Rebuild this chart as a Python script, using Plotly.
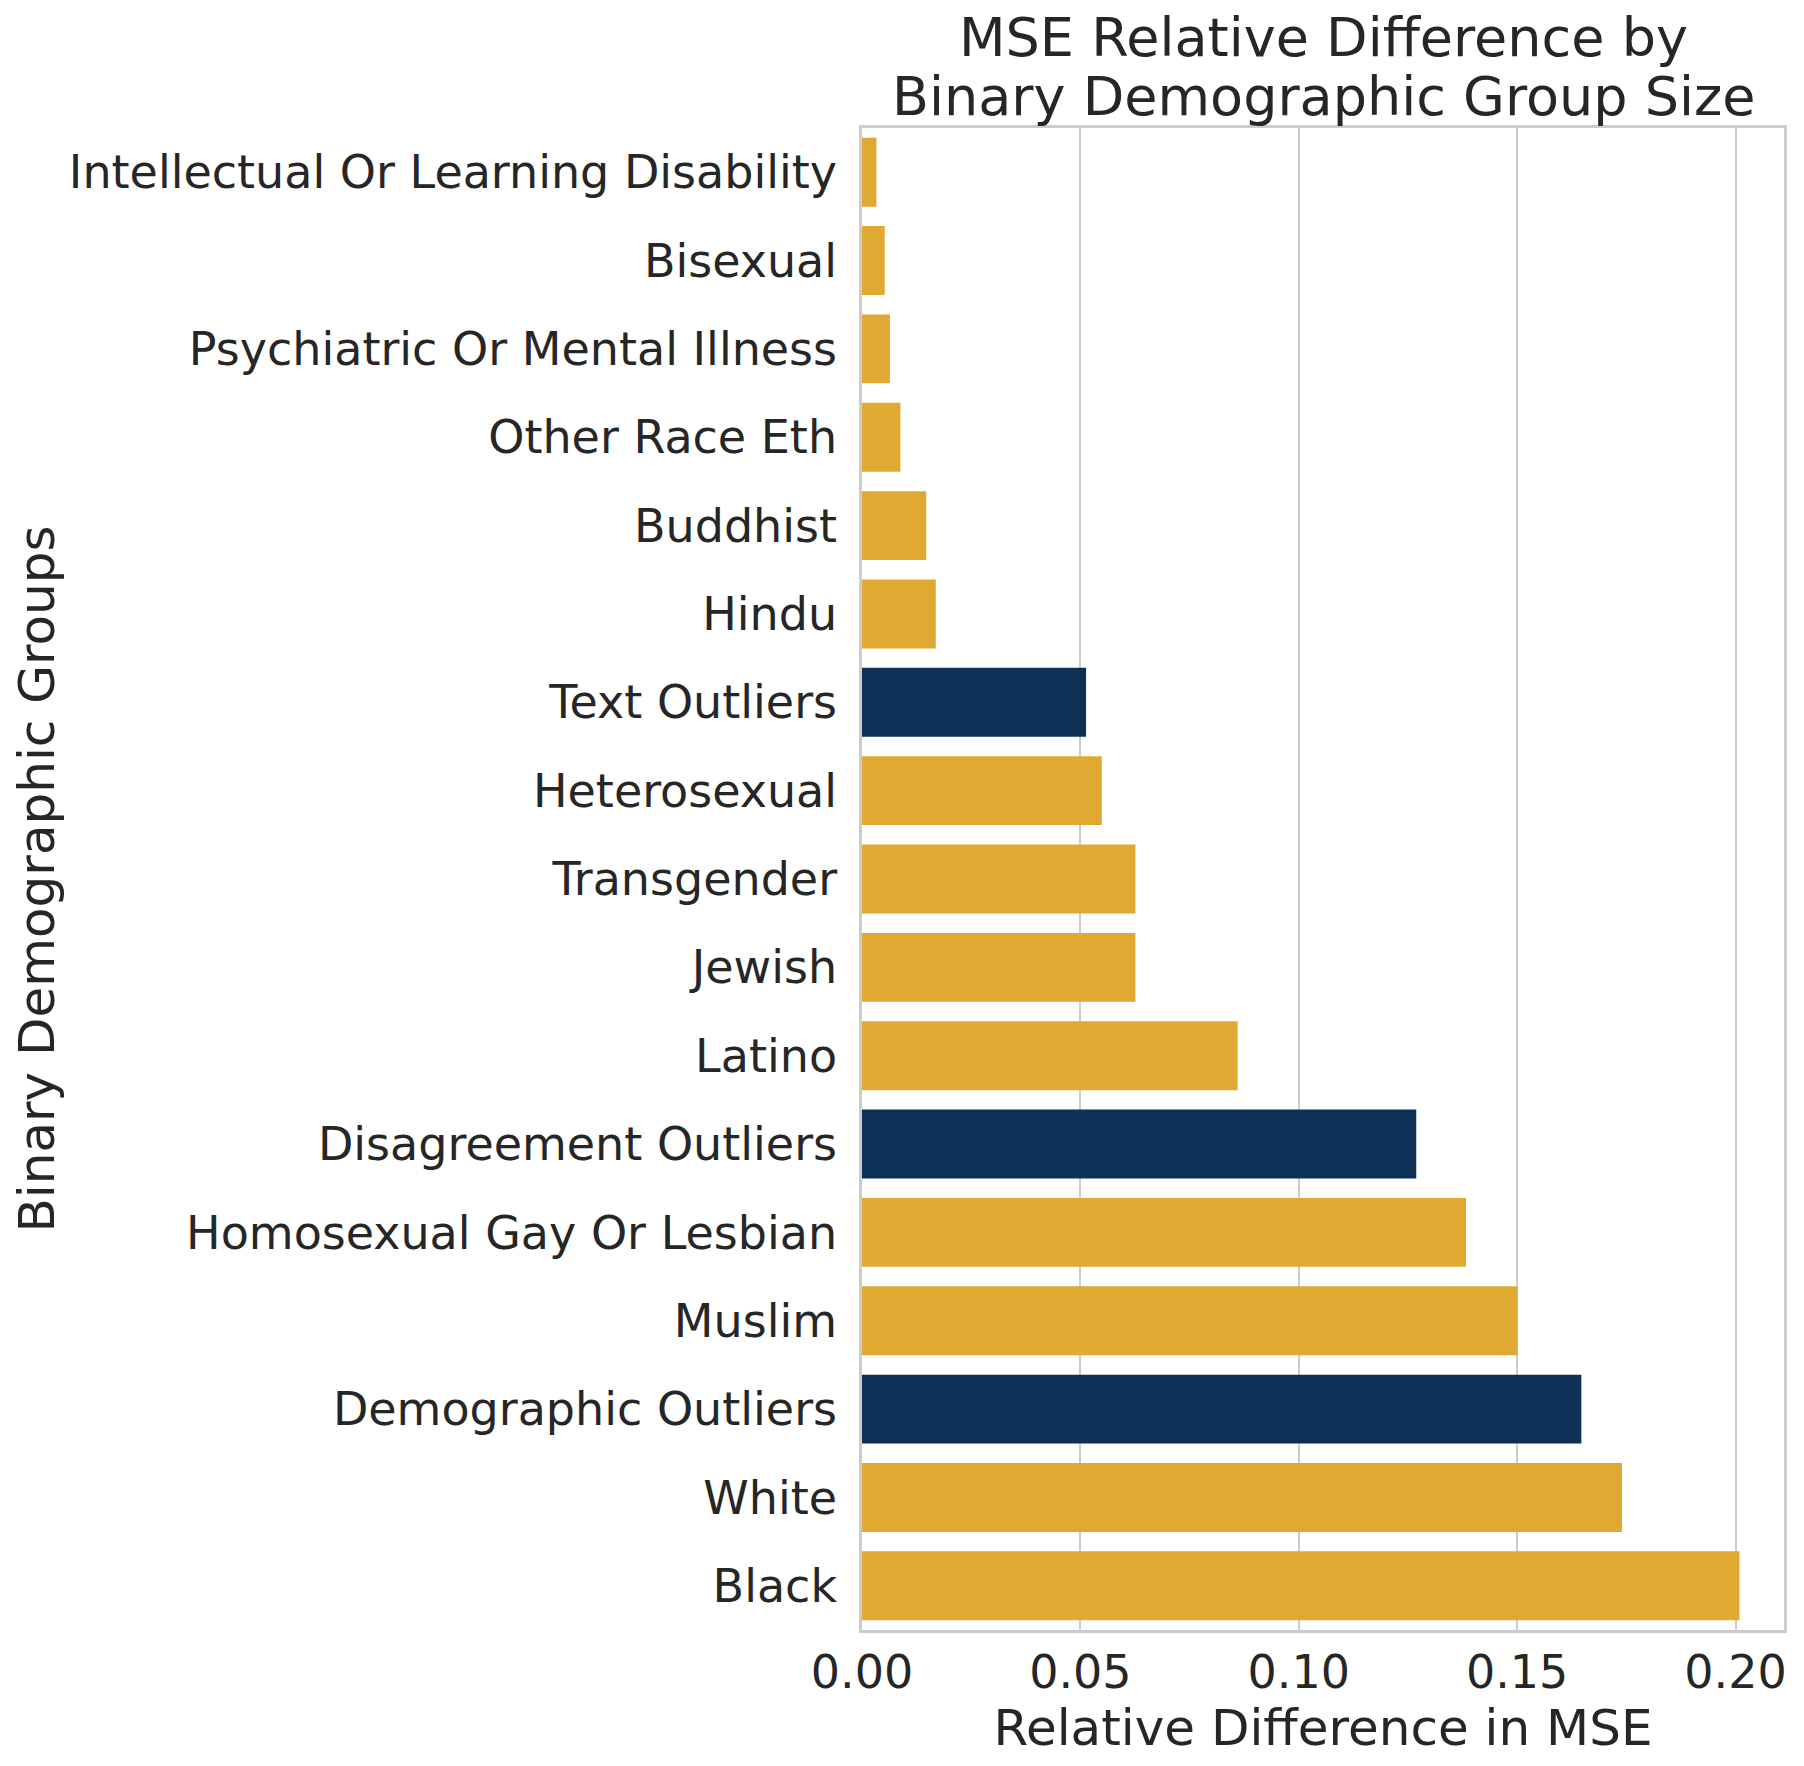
import plotly.graph_objects as go

# カテゴリ（上から順）と値
groups = ['Intellectual Or Learning Disability', 'Bisexual', 'Psychiatric Or Mental Illness',
          'Other Race Eth', 'Buddhist', 'Hindu', 'Text Outliers', 'Heterosexual', 'Transgender',
          'Jewish', 'Latino', 'Disagreement Outliers', 'Homosexual Gay Or Lesbian', 'Muslim',
          'Demographic Outliers', 'White', 'Black']
rel_diff = [0.0033, 0.0052, 0.0064, 0.0088, 0.0147, 0.0169, 0.0513, 0.0549, 0.0626,
            0.0626, 0.0860, 0.1269, 0.1383, 0.1501, 0.1647, 0.1740, 0.2009]
# outlier系は紺、それ以外は金
is_outlier = [g.endswith('Outliers') for g in groups]
x_ticks = [0.00, 0.05, 0.10, 0.15, 0.20]
x_ticklabels = ['0.00', '0.05', '0.10', '0.15', '0.20']
title_lines = ['MSE Relative Difference by', 'Binary Demographic Group Size']

gold = '#E0AA32'
navy = '#0D3156'
colors = [navy if o else gold for o in is_outlier]

font_name = 'DejaVu Sans'
text_color = '#262626'

fig = go.Figure()
fig.add_trace(go.Bar(y=groups,
                     x=rel_diff,
                     orientation='h',
                     width=0.78,
                     marker_color=colors,
                     marker_line_width=0,
                     showlegend=False))

# ページ余白(8px)の分だけ図を小さくする
fig.update_layout(width=1788,
                  height=1750,
                  margin=dict(l=849, r=9, t=120, b=128),
                  plot_bgcolor='white',
                  paper_bgcolor='white',
                  font=dict(family=font_name, color=text_color, size=46))

# タイトルは2行を別々に置く（行間を合わせるため）
for txt, ypos in zip(title_lines, [1.0605, 1.0212]):
    fig.add_annotation(text=txt, xref='paper', yref='paper', x=0.5, y=ypos,
                       xanchor='center', yanchor='middle', showarrow=False,
                       font=dict(size=54, color=text_color, family=font_name))

fig.update_xaxes(range=[0, 0.2111],
                 tickvals=x_ticks,
                 ticktext=x_ticklabels,
                 tickfont=dict(size=46, color=text_color),
                 showgrid=True, gridcolor='#cccccc', gridwidth=2,
                 showline=True, linecolor='#cccccc', linewidth=2.5, mirror=True,
                 zeroline=False,
                 ticks='', ticklabelstandoff=0,
                 title=dict(text='Relative Difference in MSE', font=dict(size=50, color=text_color),
                            standoff=10))
fig.update_yaxes(autorange='reversed',
                 tickfont=dict(size=46, color=text_color),
                 showgrid=False,
                 showline=True, linecolor='#cccccc', linewidth=2.5, mirror=True,
                 ticks='', ticklabelstandoff=13,
                 title=dict(text='Binary Demographic Groups', font=dict(size=50, color=text_color),
                            standoff=17))

fig.write_html('out.html')
